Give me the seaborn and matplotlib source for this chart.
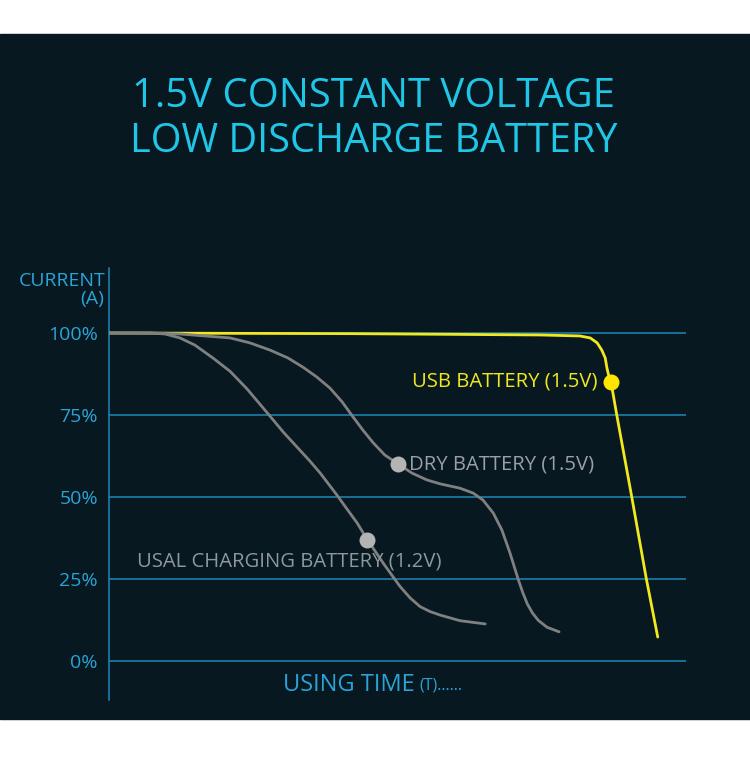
import pandas as pd
import matplotlib
matplotlib.use("Agg")
import matplotlib.pyplot as plt
import seaborn as sns

# data (time in arbitrary units 0-100, current in %)
usb_time = [0, 41.8, 74.7, 81.6, 83.4, 84.6, 85.4, 86.0, 86.3, 86.7, 87.0,
            88.0, 90.6, 93.1, 95.1]
usb_current = [100, 99.8, 99.4, 99.1, 98.5, 97.0, 94.8, 92.4, 89.3, 86.3, 85.1,
               75.0, 50.0, 25.3, 7.3]

dry_time = [0, 7.1, 12.3, 16.6, 21.0, 24.4, 27.9, 31.0, 33.6, 36.0, 38.3, 40.4,
            42.3, 44.0, 45.8, 47.8, 50.1, 52.5, 55.1, 57.4, 60.8, 63.1, 64.8,
            66.6, 68.1, 69.5, 70.9, 71.7, 72.5, 73.4, 74.4, 75.9, 78.0]
dry_current = [100, 100, 99.7, 99.1, 98.5, 97.0, 94.8, 92.4, 89.6, 86.6, 83.2,
               79.0, 74.4, 70.4, 66.5, 62.8, 60.1, 57.3, 55.2, 54.0, 52.7, 51.2,
               49.1, 45.1, 39.9, 32.9, 25.0, 20.9, 17.4, 14.6, 12.4, 10.3, 8.9]

chg_time = [0, 7.1, 9.7, 12.3, 14.9, 18.0, 21.0, 23.9, 27.6, 30.2, 32.6, 34.8,
            36.6, 39.5, 41.3, 43.0, 44.7, 47.5, 50.4, 52.2, 53.9, 55.6, 57.4,
            60.8, 65.2]
chg_current = [100, 100, 99.7, 98.5, 96.3, 92.4, 88.3, 83.0, 75.3, 69.8, 65.2,
               61.0, 57.3, 50.6, 46.2, 42.1, 37.2, 29.9, 22.8, 19.2, 16.6, 15.1,
               14.0, 12.3, 11.3]

# highlighted points
usb_dot = (87.0, 85.1)
dry_dot = (50.1, 60.1)
chg_dot = (44.7, 36.9)

y_ticks = [0, 25, 50, 75, 100]
y_tick_labels = ["0%", "25%", "50%", "75%", "100%"]

sns.set_theme(style="white")
plt.rcParams['font.family'] = ['Open Sans', 'DejaVu Sans']

bg = "#071821"
blue = "#2aa4d6"
grid_c = "#1f86b6"
yellow = "#f2e81e"
gray_line = "#808080"

W, H = 750, 771
fig = plt.figure(figsize=(7.5, 7.71), dpi=100)
fig.patch.set_facecolor("white")
# dark panel behind everything
fig.patches.append(plt.Rectangle((0, (H - 719) / H), 1, (719 - 34) / H,
                                 transform=fig.transFigure, color=bg, zorder=-5))

# axes box: x 109..700 px, y 268..700 px
ax = fig.add_axes([109 / W, (H - 700) / H, (700 - 109) / W, (700 - 268) / H])
ax.set_zorder(2)
ax.patch.set_alpha(0)
ax.set_xlim(0, (700 - 109) / 5.77)
ax.set_ylim(-39 / 3.28, 100 + 65 / 3.28)

df = pd.concat([
    pd.DataFrame({"t": usb_time, "c": usb_current, "s": "usb"}),
    pd.DataFrame({"t": dry_time, "c": dry_current, "s": "dry"}),
    pd.DataFrame({"t": chg_time, "c": chg_current, "s": "chg"}),
])

ax.hlines(y_ticks, 0, 100, color=grid_c, lw=1.1, zorder=1)

line_kw = dict(sort=False, estimator=None, ax=ax, lw=2.0,
               solid_joinstyle="round", solid_capstyle="round")
sns.lineplot(data=df[df.s == "usb"], x="t", y="c", color=yellow, zorder=3, **line_kw)
sns.lineplot(data=df[df.s == "dry"], x="t", y="c", color=gray_line, zorder=4, **line_kw)
sns.lineplot(data=df[df.s == "chg"], x="t", y="c", color=gray_line, zorder=4, **line_kw)

ax.plot(*usb_dot, "o", color="#ffe600", ms=11.5, mec="none", zorder=5)
ax.plot(*dry_dot, "o", color="#b4b4b4", ms=11.5, mec="none", zorder=5)
ax.plot(*chg_dot, "o", color="#b4b4b4", ms=11.5, mec="none", zorder=5)

ax.text(usb_dot[0] - 2.4, usb_dot[1], "USB BATTERY (1.5V)", color=yellow,
        fontsize=14.6, ha="right", va="center", zorder=6)
ax.text(dry_dot[0] + 1.9, dry_dot[1] - 0.3, "DRY BATTERY (1.5V)", color="#9aa0a4",
        fontsize=14.6, ha="left", va="center", zorder=6)
ax.text(4.8, 30.2, "USAL CHARGING BATTERY (1.2V)", color="#8e979c",
        fontsize=14.6, ha="left", va="center", zorder=6)

ax.set_xlabel("")
ax.set_ylabel("")
ax.set_xticks([])
ax.set_yticks(y_ticks)
ax.set_yticklabels(y_tick_labels)
ax.tick_params(axis="y", length=0, pad=8, labelsize=14, labelcolor=blue)
for side in ["top", "right", "bottom"]:
    ax.spines[side].set_visible(False)
ax.spines["left"].set_color(grid_c)
ax.spines["left"].set_linewidth(1.1)

# titles and axis captions
fig.text(373 / W, 1 - 97 / H, "1.5V CONSTANT VOLTAGE", color="#20c6e6",
         fontsize=28.8, ha="center", va="center")
fig.text(374 / W, 1 - 142 / H, "LOW DISCHARGE BATTERY", color="#20c6e6",
         fontsize=28.5, ha="center", va="center")
fig.text(106 / W, 1 - 281 / H, "CURRENT", color=blue, fontsize=14,
         ha="right", va="center")
fig.text(104 / W, 1 - 299 / H, "(A)", color=blue, fontsize=14,
         ha="right", va="center")
fig.text(283 / W, 1 - 685 / H, "USING TIME", color=blue, fontsize=17,
         ha="left", va="center")
fig.text(419 / W, 1 - 686 / H, "(T)......", color=blue, fontsize=11.5,
         ha="left", va="center")

fig.savefig("out.png", dpi=100, facecolor=fig.get_facecolor())
